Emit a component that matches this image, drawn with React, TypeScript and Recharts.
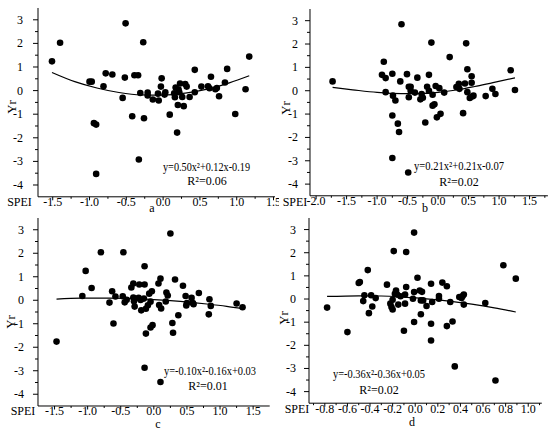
import { ComposedChart, Scatter, Line, XAxis, YAxis } from 'recharts'

const FONT = '"Liberation Serif", "Times New Roman", serif'

type Pt = [number, number]

// Yr vs SPEI, one array of (SPEI, Yr) pairs per panel
const pointsA: Pt[] = [
  [-1.51, 1.24], [-1.40, 2.03], [-1.00, 0.38], [-0.97, 0.38], [-0.94, -1.38], [-0.91, -1.44], [-0.91, -3.53],
  [-0.81, 0.18], [-0.78, 0.73], [-0.69, 0.68], [-0.55, -0.31], [-0.52, 0.55], [-0.51, 2.85], [-0.42, -1.09],
  [-0.39, 0.65], [-0.34, 0.65], [-0.33, -2.92], [-0.31, -0.10], [-0.27, 2.05], [-0.26, -1.17], [-0.21, -0.08],
  [-0.21, -0.21], [-0.14, -0.38], [-0.07, -0.13], [-0.06, -0.42], [-0.03, 0.17], [-0.02, 0.52], [0.02, -0.17],
  [0.03, -0.07], [0.09, -1.02], [0.15, -0.11], [0.16, -0.28], [0.17, 0.13], [0.19, -1.78], [0.20, -0.61],
  [0.21, 0.04], [0.22, -0.07], [0.23, 0.30], [0.26, -0.27], [0.28, -0.66], [0.30, 0.28], [0.32, 0.17],
  [0.36, -0.27], [0.43, -0.07], [0.43, 0.88], [0.52, 0.17], [0.61, 0.18], [0.63, 0.10], [0.65, 0.59],
  [0.71, 0.06], [0.73, 0.11], [0.76, -0.24], [0.84, 0.34], [0.87, 0.92], [0.98, -0.99], [1.12, 0.06], [1.17, 1.44],
]
const pointsB: Pt[] = [
  [-1.73, 0.40], [-0.92, 0.68], [-0.89, 1.24], [-0.86, 0.54], [-0.86, -0.06], [-0.75, 0.73], [-0.75, -1.06],
  [-0.75, -2.88], [-0.74, -0.21], [-0.70, -0.42], [-0.66, -1.41], [-0.64, -1.77], [-0.62, 0.40], [-0.60, 2.85],
  [-0.51, 0.71], [-0.49, -3.50], [-0.48, 0.17], [-0.48, -0.28], [-0.45, 0.17], [-0.45, 0.0], [-0.38, -0.08],
  [-0.34, 0.56], [-0.29, -0.37], [-0.27, -0.14], [-0.25, -0.30], [-0.21, -1.36], [-0.18, 0.17], [-0.15, 0.68],
  [-0.15, 0.0], [-0.11, 2.06], [-0.09, -0.17], [-0.09, -0.64], [-0.06, -0.58], [-0.04, 0.20], [-0.02, -1.14],
  [0.02, 0.11], [0.04, -0.99], [0.10, -0.08], [0.19, 1.44], [0.30, 0.16], [0.34, 0.30], [0.35, 0.08],
  [0.41, -0.96], [0.44, 0.31], [0.46, 2.03], [0.48, 0.92], [0.48, -0.06], [0.52, -0.31], [0.55, 0.62],
  [0.55, 0.34], [0.56, -0.25], [0.58, -0.21], [0.78, -0.23], [0.89, 0.08], [0.94, -0.14], [1.19, 0.88], [1.26, 0.03],
]
const pointsC: Pt[] = [
  [-1.47, -1.76], [-1.08, 0.18], [-1.03, 1.25], [-0.94, 0.52], [-0.80, 2.04], [-0.67, -0.10], [-0.63, 0.38],
  [-0.61, -0.99], [-0.58, 0.16], [-0.47, 0.17], [-0.46, 2.04], [-0.44, -0.09], [-0.41, 0.02], [-0.34, 0.54],
  [-0.31, 0.71], [-0.31, 0.12], [-0.30, -0.04], [-0.29, -0.27], [-0.23, 0.10], [-0.22, 0.67], [-0.20, 0.01],
  [-0.19, -0.43], [-0.15, 0.07], [-0.14, 0.67], [-0.14, 1.45], [-0.14, -2.87], [-0.12, -0.36], [-0.12, -1.42],
  [-0.09, -0.21], [-0.07, 0.28], [-0.05, -0.06], [-0.03, 0.38], [-0.05, -1.16], [-0.02, -1.06], [0.07, 0.71],
  [0.08, -0.20], [0.10, 0.92], [0.11, -0.35], [0.10, -3.48], [0.18, -0.05], [0.19, 0.33], [0.21, 0.20],
  [0.25, 2.84], [0.28, -0.97], [0.29, -1.38], [0.32, 0.88], [0.37, -0.64], [0.44, 0.62], [0.48, 0.18],
  [0.49, -0.22], [0.50, -0.12], [0.57, 0.10], [0.59, -0.12], [0.60, -0.17], [0.68, 0.31], [0.83, -0.60],
  [0.84, 0.04], [0.86, -0.24], [1.25, -0.14], [1.34, -0.30],
]
const pointsD: Pt[] = [
  [-0.78, -0.37], [-0.60, -1.43], [-0.50, 0.69], [-0.49, 0.73], [-0.46, -0.09], [-0.45, 0.16], [-0.42, 1.25],
  [-0.41, -0.61], [-0.39, 0.16], [-0.38, -0.32], [-0.35, 0.04], [-0.25, 0.62], [-0.22, -0.20], [-0.21, -0.35],
  [-0.20, -0.45], [-0.20, -0.03], [-0.19, 2.07], [-0.18, 0.23], [-0.17, 0.37], [-0.16, 0.19], [-0.15, -0.24],
  [-0.13, 0.12], [-0.10, -1.37], [-0.09, -0.20], [-0.09, 0.19], [-0.08, 0.52], [-0.08, 2.03], [-0.02, 0.01],
  [-0.01, 2.87], [-0.01, 0.30], [-0.01, -0.99], [0.02, 0.92], [0.04, 0.37], [0.05, -0.66], [0.06, 0.31],
  [0.05, -0.06], [0.07, -0.06], [0.10, -0.30], [0.14, 0.66], [0.14, -1.07], [0.14, -1.79], [0.15, -0.13],
  [0.21, 0.13], [0.21, 0.01], [0.24, 0.71], [0.28, 0.55], [0.28, -1.17], [0.31, -0.13], [0.33, -0.97],
  [0.35, -2.91], [0.39, 0.09], [0.41, 0.04], [0.42, 0.13], [0.43, 0.19], [0.43, -0.24], [0.62, -0.17],
  [0.71, -3.52], [0.78, 1.46], [0.89, 0.88],
]

// fitted quadratic curves, sampled from the drawn line
const fitA: Pt[] = [[-1.51, 0.77], [-1.2, 0.38], [-0.9, 0.11], [-0.6, -0.08], [-0.3, -0.18], [0, -0.19], [0.3, -0.11], [0.6, 0.06], [0.9, 0.33], [1.17, 0.63]]
const fitB: Pt[] = [[-1.73, 0.14], [-1.4, 0.04], [-1.0, -0.07], [-0.6, -0.12], [-0.3, -0.12], [0, -0.07], [0.3, 0.03], [0.6, 0.18], [0.9, 0.35], [1.26, 0.55]]
const fitC: Pt[] = [[-1.47, 0.05], [-1.1, 0.09], [-0.8, 0.09], [-0.4, 0.08], [0, 0.03], [0.4, -0.05], [0.8, -0.16], [1.1, -0.26], [1.34, -0.36]]
const fitD: Pt[] = [[-0.78, 0.11], [-0.5, 0.14], [-0.3, 0.13], [-0.1, 0.08], [0.1, 0.01], [0.3, -0.09], [0.5, -0.22], [0.7, -0.38], [0.89, -0.56]]

const eqA = 'y=0.50x²+0.12x-0.19'
const eqB = 'y=0.21x²+0.21x-0.07'
const eqC = 'y=-0.10x²-0.16x+0.03'
const eqD = 'y=-0.36x²-0.36x+0.05'
const r2A = 'R²=0.06'
const r2B = 'R²=0.02'
const r2C = 'R²=0.01'
const r2D = 'R²=0.02'

const Y_TICKS = [-4, -3.5, -3, -2.5, -2, -1.5, -1, -0.5, 0, 0.5, 1, 1.5, 2, 2.5, 3]
const Y_MAJOR = [-4, -3, -2, -1, 0, 1, 2, 3]

const xTicksA = [-1.5, -1.25, -1, -0.75, -0.5, -0.25, 0, 0.25, 0.5, 0.75, 1, 1.25, 1.5]
const xMajorA = [-1.5, -1, -0.5, 0, 0.5, 1, 1.5]
const xTicksB = [-2, -1.75, -1.5, -1.25, -1, -0.75, -0.5, -0.25, 0, 0.25, 0.5, 0.75, 1, 1.25, 1.5, 1.75]
const xMajorB = [-2, -1.5, -1, -0.5, 0, 0.5, 1, 1.5]
const xTicksC = [-1.5, -1.25, -1, -0.75, -0.5, -0.25, 0, 0.25, 0.5, 0.75, 1, 1.25, 1.5]
const xMajorC = [-1.5, -1, -0.5, 0, 0.5, 1, 1.5]
const xTicksD = [-0.9, -0.8, -0.7, -0.6, -0.5, -0.4, -0.3, -0.2, -0.1, 0, 0.1, 0.2, 0.3, 0.4, 0.5, 0.6, 0.7, 0.8, 0.9, 1.0, 1.1]
const xMajorD = [-0.8, -0.6, -0.4, -0.2, 0, 0.2, 0.4, 0.6, 0.8, 1.0]

const isMajor = (v: number, majors: number[]) => majors.some((m) => Math.abs(m - v) < 1e-6)

interface PanelProps {
  plotX: number; plotY: number; plotW: number; plotH: number
  xDomain: [number, number]; xTicks: number[]; xMajor: number[]
  points: Pt[]; fit: Pt[]; yLabelGap: number
}

const PAD_L = 40, PAD_R = 4, PAD_T = 4, PAD_B = 24

function Panel({ plotX, plotY, plotW, plotH, xDomain, xTicks, xMajor, points, fit, yLabelGap }: PanelProps) {
  const w = PAD_L + plotW + PAD_R
  const h = PAD_T + plotH + PAD_B
  const scatterData = points.map(([x, y]) => ({ x, y }))
  const fitData = fit.map(([x, y]) => ({ x, y }))

  const xTick = (p: any) => {
    const v = p.payload.value
    const major = isMajor(v, xMajor)
    return (
      <g>
        <line x1={p.x} y1={p.y} x2={p.x} y2={p.y + (major ? 3.5 : 2)} stroke="#000" strokeWidth={1} />
        {major && (
          <text x={p.x} y={p.y + 9.5} textAnchor="middle" fontFamily={FONT} fontSize={12} fill="#000">
            {v.toFixed(1)}
          </text>
        )}
      </g>
    )
  }
  const yTick = (p: any) => {
    const v = p.payload.value
    const major = isMajor(v, Y_MAJOR)
    return (
      <g>
        <line x1={p.x} y1={p.y} x2={p.x - (major ? 5 : 3)} y2={p.y} stroke="#000" strokeWidth={1} />
        {major && (
          <text x={p.x - yLabelGap} y={p.y + 4} textAnchor="end" fontFamily={FONT} fontSize={12} fill="#000">
            {String(v)}
          </text>
        )}
      </g>
    )
  }

  return (
    <div style={{ position: 'absolute', left: plotX - PAD_L, top: plotY - PAD_T, width: w, height: h }}>
      <ComposedChart width={w} height={h} margin={{ top: PAD_T, right: PAD_R, bottom: 0, left: 0 }}>
        <XAxis
          type="number" dataKey="x" domain={xDomain} ticks={xTicks} interval={0} allowDataOverflow
          height={PAD_B} tickSize={0} tickMargin={0} tickLine={false}
          axisLine={{ stroke: '#000', strokeWidth: 1 }} tick={xTick}
        />
        <YAxis
          type="number" dataKey="y" domain={[-4.5, 3.5]} ticks={Y_TICKS} interval={0} allowDataOverflow
          width={PAD_L} tickSize={0} tickMargin={0} tickLine={false}
          axisLine={{ stroke: '#000', strokeWidth: 1 }} tick={yTick}
        />
        <Scatter
          data={scatterData} isAnimationActive={false}
          shape={(s: any) => <circle cx={s.cx} cy={s.cy} r={3.3} fill="#000" />}
        />
        <Line
          data={fitData} dataKey="y" type="monotone" stroke="#000" strokeWidth={1.2}
          dot={false} activeDot={false} isAnimationActive={false}
        />
      </ComposedChart>
    </div>
  )
}

const label = { fontFamily: FONT, fontSize: 12, fill: '#000' }

export default function App() {
  return (
    <div style={{ position: 'absolute', left: 0, top: 0, width: 550, height: 433, overflow: 'hidden', background: '#fff' }}>
      <Panel plotX={37.7} plotY={7.9} plotW={237} plotH={188.8} xDomain={[-1.7, 1.52]} xTicks={xTicksA} xMajor={xMajorA} points={pointsA} fit={fitA} yLabelGap={15} />
      <Panel plotX={310.3} plotY={9.2} plotW={237.9} plotH={186.8} xDomain={[-2.1, 1.8]} xTicks={xTicksB} xMajor={xMajorB} points={pointsB} fit={fitB} yLabelGap={12} />
      <Panel plotX={37.7} plotY={217.7} plotW={231.7} plotH={188} xDomain={[-1.75, 1.75]} xTicks={xTicksC} xMajor={xMajorC} points={pointsC} fit={fitC} yLabelGap={14} />
      <Panel plotX={309.3} plotY={218.1} plotW={232.8} plotH={185.2} xDomain={[-0.94, 1.12]} xTicks={xTicksD} xMajor={xMajorD} points={pointsD} fit={fitD} yLabelGap={13} />
      <svg width={550} height={433} style={{ position: 'absolute', left: 0, top: 0, pointerEvents: 'none' }}>
        <text {...label} fontSize={13} x={11} y={107} textAnchor="middle" dominantBaseline="central" transform="rotate(-90 11 107)">Yr</text>
        <text {...label} fontSize={13} x={285} y={108} textAnchor="middle" dominantBaseline="central" transform="rotate(-90 285 108)">Yr</text>
        <text {...label} fontSize={13} x={10} y={322} textAnchor="middle" dominantBaseline="central" transform="rotate(-90 10 322)">Yr</text>
        <text {...label} fontSize={13} x={283} y={318} textAnchor="middle" dominantBaseline="central" transform="rotate(-90 283 318)">Yr</text>

        <text {...label} x={19.5} y={206.2} textAnchor="middle">SPEI</text>
        <text {...label} x={295} y={205.5} textAnchor="middle">SPEI</text>
        <text {...label} x={23} y={415.2} textAnchor="middle">SPEI</text>
        <text {...label} x={297} y={412.8} textAnchor="middle">SPEI</text>

        <text {...label} x={152} y={212} textAnchor="middle">a</text>
        <text {...label} x={425} y={212} textAnchor="middle">b</text>
        <text {...label} x={158} y={428} textAnchor="middle">c</text>
        <text {...label} x={412} y={426} textAnchor="middle">d</text>

        <text {...label} x={163} y={170.5} textLength={87} lengthAdjust="spacingAndGlyphs">{eqA}</text>
        <text {...label} x={207} y={185} textAnchor="middle">{r2A}</text>
        <text {...label} x={414} y={170} textLength={90} lengthAdjust="spacingAndGlyphs">{eqB}</text>
        <text {...label} x={459} y={186} textAnchor="middle">{r2B}</text>
        <text {...label} x={164} y={375} textLength={92} lengthAdjust="spacingAndGlyphs">{eqC}</text>
        <text {...label} x={208} y={389.5} textAnchor="middle">{r2C}</text>
        <text {...label} x={333} y={378} textLength={92} lengthAdjust="spacingAndGlyphs">{eqD}</text>
        <text {...label} x={379} y={393.5} textAnchor="middle">{r2D}</text>
      </svg>
    </div>
  )
}
